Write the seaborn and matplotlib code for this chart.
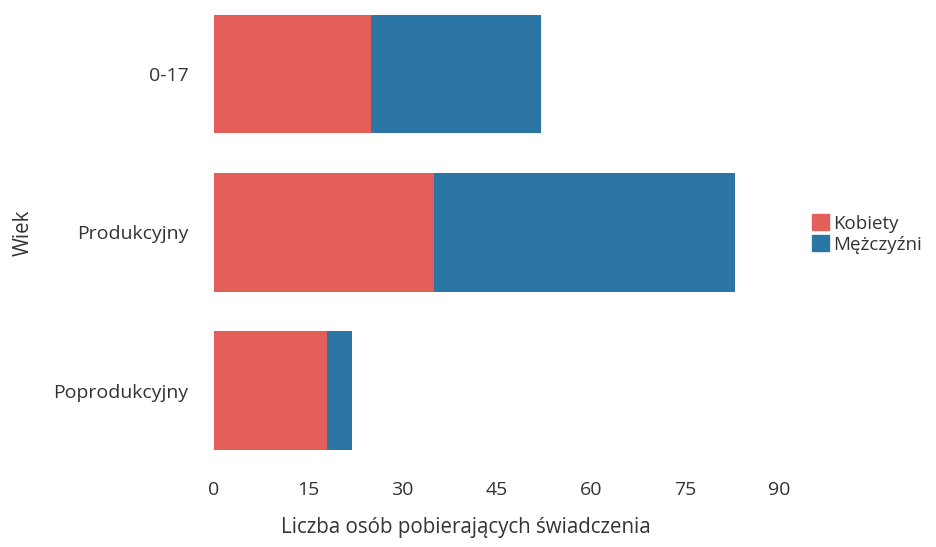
import matplotlib
matplotlib.use('Agg')
import matplotlib.pyplot as plt
import matplotlib.patches as mpatches
import pandas as pd
import seaborn as sns

# data
categories = ['0-17', 'Produkcyjny', 'Poprodukcyjny']
kobiety = [25, 35, 18]
mezczyzni = [27, 48, 4]
series_names = ['Kobiety', 'Mężczyźni']
x_ticks = [0, 15, 30, 45, 60, 75, 90]

RED = '#E55F5A'
BLUE = '#2C76A6'
TEXT = '#333333'

df = pd.DataFrame({'Wiek': categories, 'Kobiety': kobiety, 'Mezczyzni': mezczyzni})
df['Razem'] = df['Kobiety'] + df['Mezczyzni']

sns.set_style('white')
plt.rcParams['font.family'] = ['Open Sans', 'DejaVu Sans']

fig = plt.figure(figsize=(9.37, 5.47), dpi=100)
W, H = 937, 547
unit = 6.28
x0 = 214 - 0.5 * unit
ax = fig.add_axes([x0 / W, (547 - 462) / H, 91.5 * unit / W, (462 - 2.7) / H])

# stacked: draw total (blue) first, then women (red) on top
sns.barplot(data=df, x='Razem', y='Wiek', color=BLUE, orient='h', width=0.75,
            saturation=1, linewidth=0, ax=ax)
sns.barplot(data=df, x='Kobiety', y='Wiek', color=RED, orient='h', width=0.75,
            saturation=1, linewidth=0, ax=ax)

ax.set_xlim(-0.5, 91)
ax.set_ylim(2.45, -0.45)
ax.set_xticks(x_ticks)
ax.tick_params(axis='both', length=0, labelsize=14, colors=TEXT)
ax.tick_params(axis='y', pad=16)
ax.tick_params(axis='x', pad=14)
ax.set_xlabel('Liczba osób pobierających świadczenia', fontsize=14.8, color=TEXT)
ax.set_ylabel('Wiek', fontsize=14.8, color=TEXT)
ax.xaxis.set_label_coords((466 - x0) / (91.5 * unit), -(527 - 462) / (462 - 2.7), transform=ax.transAxes)
ax.yaxis.set_label_coords(-(x0 - 23) / (91.5 * unit), (462 - 233) / (462 - 2.7), transform=ax.transAxes)
ax.xaxis.label.set_va('center')
ax.yaxis.label.set_va('center')
sns.despine(ax=ax, left=True, bottom=True)

handles = [mpatches.Patch(color=RED, label=series_names[0]),
           mpatches.Patch(color=BLUE, label=series_names[1])]
fig.legend(handles=handles, loc='center left', bbox_to_anchor=(795 / W, 1 - 234 / H),
           frameon=False, fontsize=13.5, handlelength=0.9, handleheight=0.9,
           handletextpad=0.25, labelspacing=0.15, labelcolor=TEXT)

fig.savefig('out.png', dpi=100)
plt.close(fig)
